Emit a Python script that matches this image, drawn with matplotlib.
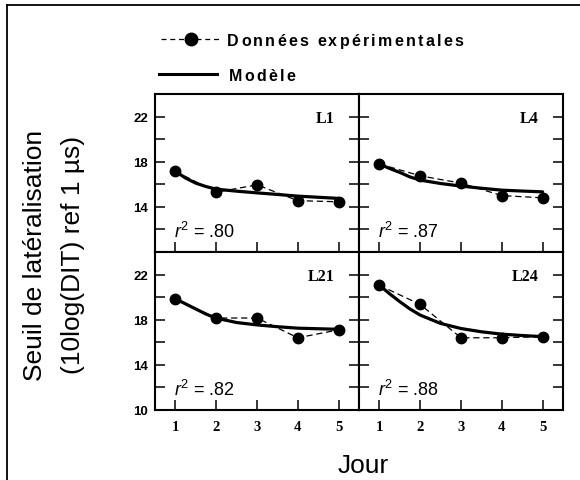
import matplotlib
matplotlib.use("Agg")
import matplotlib.pyplot as plt
from matplotlib.lines import Line2D

plt.rcParams["font.family"] = ["Liberation Sans", "DejaVu Sans"]
plt.rcParams["mathtext.fontset"] = "custom"
plt.rcParams["mathtext.rm"] = "Liberation Sans"
plt.rcParams["mathtext.it"] = "Liberation Sans:italic"

# data
days = [1, 2, 3, 4, 5]
l1_data = [17.15, 15.3, 15.95, 14.55, 14.45]
l4_data = [17.8, 16.75, 16.1, 15.0, 14.8]
l21_data = [19.85, 18.15, 18.15, 16.4, 17.1]
l24_data = [21.05, 19.35, 16.4, 16.4, 16.5]

model_x = [1, 1.25, 1.5, 1.75, 2, 2.5, 3, 3.5, 4, 4.5, 5]
l1_model = [17.15, 16.55, 16.1, 15.8, 15.57, 15.39, 15.24, 15.1, 14.95, 14.85, 14.75]
l4_model = [17.8, 17.4, 17.05, 16.65, 16.37, 16.07, 15.84, 15.65, 15.48, 15.4, 15.33]
l21_model = [19.85, 19.4, 18.95, 18.5, 18.14, 17.75, 17.54, 17.38, 17.25, 17.2, 17.15]
l24_model = [21.05, 20.3, 19.6, 18.95, 18.41, 17.67, 17.22, 16.93, 16.72, 16.6, 16.5]

names = ["L1", "L4", "L21", "L24"]
r2 = [".80", ".87", ".82", ".88"]

W, H = 580, 481
fig = plt.figure(figsize=(5.8, 4.81), dpi=100)


def box(l, t, r, b):
    return [l / W, 1 - b / H, (r - l) / W, (b - t) / H]


def spaced(x, y, s, gap, **kw):
    # draw text letter by letter to get the wide letter spacing of the original
    rend = fig.canvas.get_renderer()
    for ch in s:
        if ch == " ":
            x += 4 + gap
            continue
        t = fig.text(x / W, 1 - y / H, ch, **kw)
        x += t.get_window_extent(rend).width + gap


positions = [box(155, 95, 359, 253), box(359, 95, 563, 253),
             box(155, 253, 359, 411), box(359, 253, 563, 411)]
data = [l1_data, l4_data, l21_data, l24_data]
model = [l1_model, l4_model, l21_model, l24_model]

for i in range(4):
    ax = fig.add_axes(positions[i])
    ax.plot(days, data[i], "k--", lw=0.9, dashes=(5, 3), marker="o", ms=7.5, zorder=3)
    ax.plot(model_x, model[i], "k-", lw=2.3, solid_capstyle="round", zorder=4)
    ax.set_xlim(0.5, 5.5)
    ax.set_ylim(10, 24)
    ax.set_xticks(days)
    if i < 2:
        ax.set_yticks([12, 14, 16, 18, 20, 22])
    else:
        ax.set_yticks([10, 12, 14, 16, 18, 20, 22])
    ax.tick_params(direction="in", length=7, width=1.1, left=True, right=True,
                   bottom=True, top=False)
    ax.tick_params(axis="y", pad=5)
    ax.tick_params(axis="x", pad=7)
    for sp in ax.spines.values():
        sp.set_linewidth(1.5)
    if i % 2 == 0:
        ax.set_yticklabels([str(v) if v % 4 == 2 else "" for v in ax.get_yticks()],
                           fontsize=9.5, fontweight="bold")
    else:
        ax.set_yticklabels([])
    if i >= 2:
        ax.set_xticklabels([str(d) for d in days], fontsize=10.5,
                           fontweight="bold", family="Liberation Serif")
    else:
        ax.set_xticklabels([])
    ax.text(0.88, 0.85, names[i], transform=ax.transAxes, ha="right", va="center",
            fontsize=11.5, fontweight="bold", family="Liberation Serif")
    ax.text(0.96, 11.3, r"$r^2$ = " + r2[i], fontsize=13, ha="left", va="baseline")

# legend drawn by hand
fig.add_artist(Line2D([161 / W, 222 / W], [1 - 40 / H] * 2, color="k", lw=0.9,
                      ls="--", dashes=(4, 3)))
fig.add_artist(Line2D([191 / W], [1 - 40 / H], color="k", marker="o", ms=9))
spaced(227, 40, "Données expérimentales", 2.3, fontsize=11.5, fontweight="bold",
       va="center_baseline")
fig.add_artist(Line2D([159 / W, 217 / W], [1 - 75 / H] * 2, color="k", lw=2.2))
spaced(229, 75, "Modèle", 2.3, fontsize=11.5, fontweight="bold", va="center_baseline")

# axis titles
fig.text(35 / W, 1 - 255 / H, "Seuil de latéralisation", rotation=90,
         ha="center", va="center", fontsize=19)
fig.text(73 / W, 1 - 255 / H, "(10log(DIT) ref 1 µs)", rotation=90,
         ha="center", va="center", fontsize=19)
fig.text(363 / W, 1 - 466 / H, "Jour", ha="center", va="center", fontsize=19)

# outer frame, cut by the right and bottom edges
fig.add_artist(Line2D([7 / W, 7 / W], [0, 1 - 6 / H], color="k", lw=1.3))
fig.add_artist(Line2D([7 / W, 1], [1 - 6 / H, 1 - 6 / H], color="k", lw=1.3))

fig.savefig("out.png", dpi=100)
